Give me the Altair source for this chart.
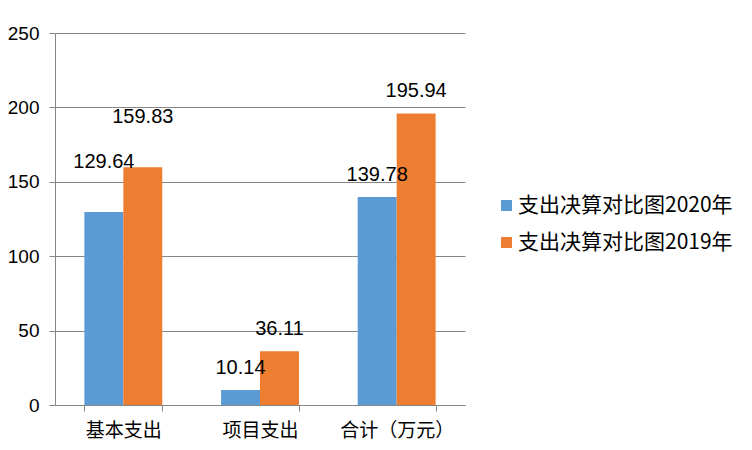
import altair as alt
import pandas as pd

categories = ["基本支出", "项目支出", "合计（万元）"]
series = ["支出决算对比图2020年", "支出决算对比图2019年"]
values_2020 = [129.64, 10.14, 139.78]
values_2019 = [159.83, 36.11, 195.94]
colors = ["#5B9BD5", "#ED7D31"]
y_ticks = [0, 50, 100, 150, 200, 250]

rows = []
for c, v in zip(categories, values_2020):
    rows.append({"cat": c, "series": series[0], "value": v, "label": f"{v:.2f}"})
for c, v in zip(categories, values_2019):
    rows.append({"cat": c, "series": series[1], "value": v, "label": f"{v:.2f}"})
df = pd.DataFrame(rows)

num_font = "Liberation Sans"
cjk_font = "Noto Sans CJK SC"

x_enc = alt.X("cat:N", sort=categories,
              scale=alt.Scale(paddingInner=0.43, paddingOuter=0.215),
              axis=alt.Axis(title=None, labelAngle=0, labelFont=cjk_font, labelFontSize=19,
                            labelColor="#000000", labelPadding=10, tickBand="extent",
                            tickSize=6, tickColor="#868686", domainColor="#868686",
                            grid=False))
xo_enc = alt.XOffset("series:N", sort=series, scale=alt.Scale(paddingInner=0, paddingOuter=0))
y_enc = alt.Y("value:Q", scale=alt.Scale(domain=[0, 250], nice=False),
              axis=alt.Axis(title=None, values=y_ticks, labelFont=num_font, labelFontSize=19,
                            labelColor="#000000", labelPadding=10, tickSize=6,
                            tickColor="#868686", domainColor="#868686",
                            gridColor="#868686", grid=True))

base = alt.Chart(df)

bars = base.mark_bar().encode(
    x=x_enc, xOffset=xo_enc, y=y_enc,
    color=alt.Color("series:N", sort=series, scale=alt.Scale(domain=series, range=colors),
                    legend=alt.Legend(title=None, orient="none", legendX=441, legendY=162,
                                      labelFont=cjk_font, labelFontSize=21, labelColor="#000000",
                                      labelLimit=0,
                                      symbolType="square", symbolSize=121, symbolStrokeWidth=0,
                                      rowPadding=15, labelOffset=1)),
)

labels_high = base.transform_filter(alt.datum.cat == categories[0]).mark_text(
    font=num_font, fontSize=20, color="#000000", baseline="middle", dy=-50
).encode(x=alt.X("cat:N", sort=categories), xOffset=alt.XOffset("series:N", sort=series),
         y="value:Q", text="label:N")

labels_low = base.transform_filter(alt.datum.cat != categories[0]).mark_text(
    font=num_font, fontSize=20, color="#000000", baseline="middle", dy=-22
).encode(x=alt.X("cat:N", sort=categories), xOffset=alt.XOffset("series:N", sort=series),
         y="value:Q", text="label:N")

chart = alt.layer(bars, labels_high, labels_low).properties(
    width=410, height=372,
    autosize=alt.AutoSizeParams(type="none"),
    padding={"left": 47, "top": 25, "right": 277, "bottom": 37},
).configure_view(stroke=None).configure_axis(gridWidth=1, domainWidth=1)

chart.save("out.html", embed_options={"renderer": "svg", "actions": False})
